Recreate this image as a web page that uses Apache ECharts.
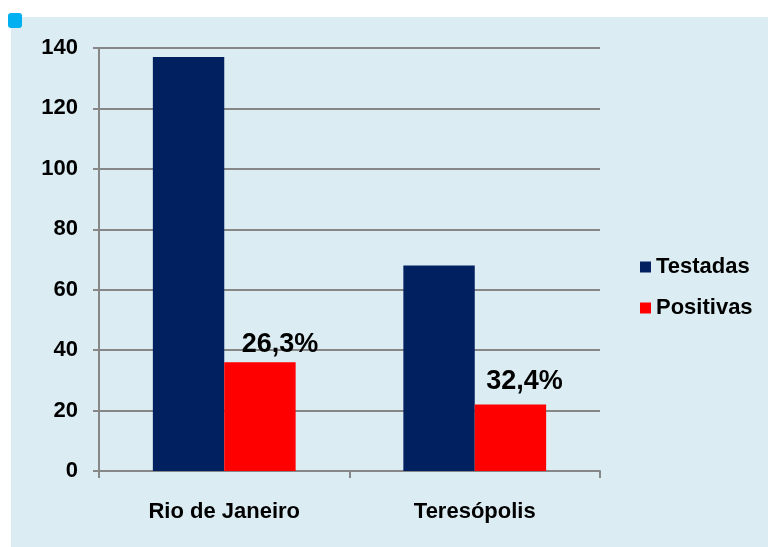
<!DOCTYPE html>
<html>
<head>
<meta charset="utf-8">
<script src="https://cdn.jsdelivr.net/npm/echarts@6/dist/echarts.min.js"></script>
<style>
html,body{margin:0;padding:0;background:#ffffff;}
#c{width:768px;height:547px;}
</style>
</head>
<body>
<div id="c"></div>
<script>
// ---- data ----
const categories = ['Rio de Janeiro', 'Teresópolis'];
const seriesNames = ['Testadas', 'Positivas'];
const testadas = [137, 68];
const positivas = [36, 22];
const positiveRateLabels = ['26,3%', '32,4%'];
const yTicks = [0, 20, 40, 60, 80, 100, 120, 140];

// ---- styles ----
const FONT = "'Liberation Sans', Arial, sans-serif";
const labelOffsets = [[20, 1], [14, -4]];

const chart = echarts.init(document.getElementById('c'), null, {renderer: 'canvas'});
chart.setOption({
  animation: false,
  backgroundColor: '#ffffff',
  graphic: [
    {type: 'rect', left: 11, top: 17, z: -10, shape: {width: 757, height: 530}, style: {fill: '#DBEDF3'}},
    {type: 'rect', left: 8, top: 13, z: 10, shape: {width: 14, height: 15, r: 3}, style: {fill: '#00B0F0'}}
  ],
  grid: {left: 99, top: 48, right: 168, bottom: 76},
  legend: {
    orient: 'vertical',
    left: 640,
    top: 256,
    padding: 0,
    itemWidth: 11,
    itemHeight: 11,
    itemGap: 19,
    icon: 'rect',
    textStyle: {fontFamily: FONT, fontSize: 22, fontWeight: 'bold', color: '#000', padding: [0, 0, 0, 0]},
    data: seriesNames
  },
  xAxis: {
    type: 'category',
    data: categories,
    axisLine: {lineStyle: {color: '#878787', width: 2}},
    axisTick: {show: true, length: 7, alignWithLabel: false, lineStyle: {color: '#878787', width: 2}},
    axisLabel: {fontFamily: FONT, fontSize: 22, fontWeight: 'bold', color: '#000', margin: 30}
  },
  yAxis: {
    type: 'value',
    min: yTicks[0],
    max: yTicks[yTicks.length - 1],
    interval: yTicks[1] - yTicks[0],
    axisLine: {show: true, lineStyle: {color: '#878787', width: 2}},
    axisTick: {show: true, length: 6, lineStyle: {color: '#878787', width: 2}},
    splitLine: {lineStyle: {color: '#878787', width: 2}},
    axisLabel: {fontFamily: FONT, fontSize: 22, fontWeight: 'bold', color: '#000', margin: 21}
  },
  series: [
    {
      name: seriesNames[0],
      type: 'bar',
      data: testadas,
      itemStyle: {color: '#002060'},
      barGap: '0%',
      barCategoryGap: '43%'
    },
    {
      name: seriesNames[1],
      type: 'bar',
      data: positivas.map((v, i) => ({
        value: v,
        label: {
          show: true,
          position: 'top',
          offset: labelOffsets[i],
          formatter: positiveRateLabels[i]
        }
      })),
      itemStyle: {color: '#FF0000'},
      label: {fontFamily: FONT, fontSize: 27, fontWeight: 'bold', color: '#000'},
      barGap: '0%',
      barCategoryGap: '43%'
    }
  ]
});
</script>
</body>
</html>
